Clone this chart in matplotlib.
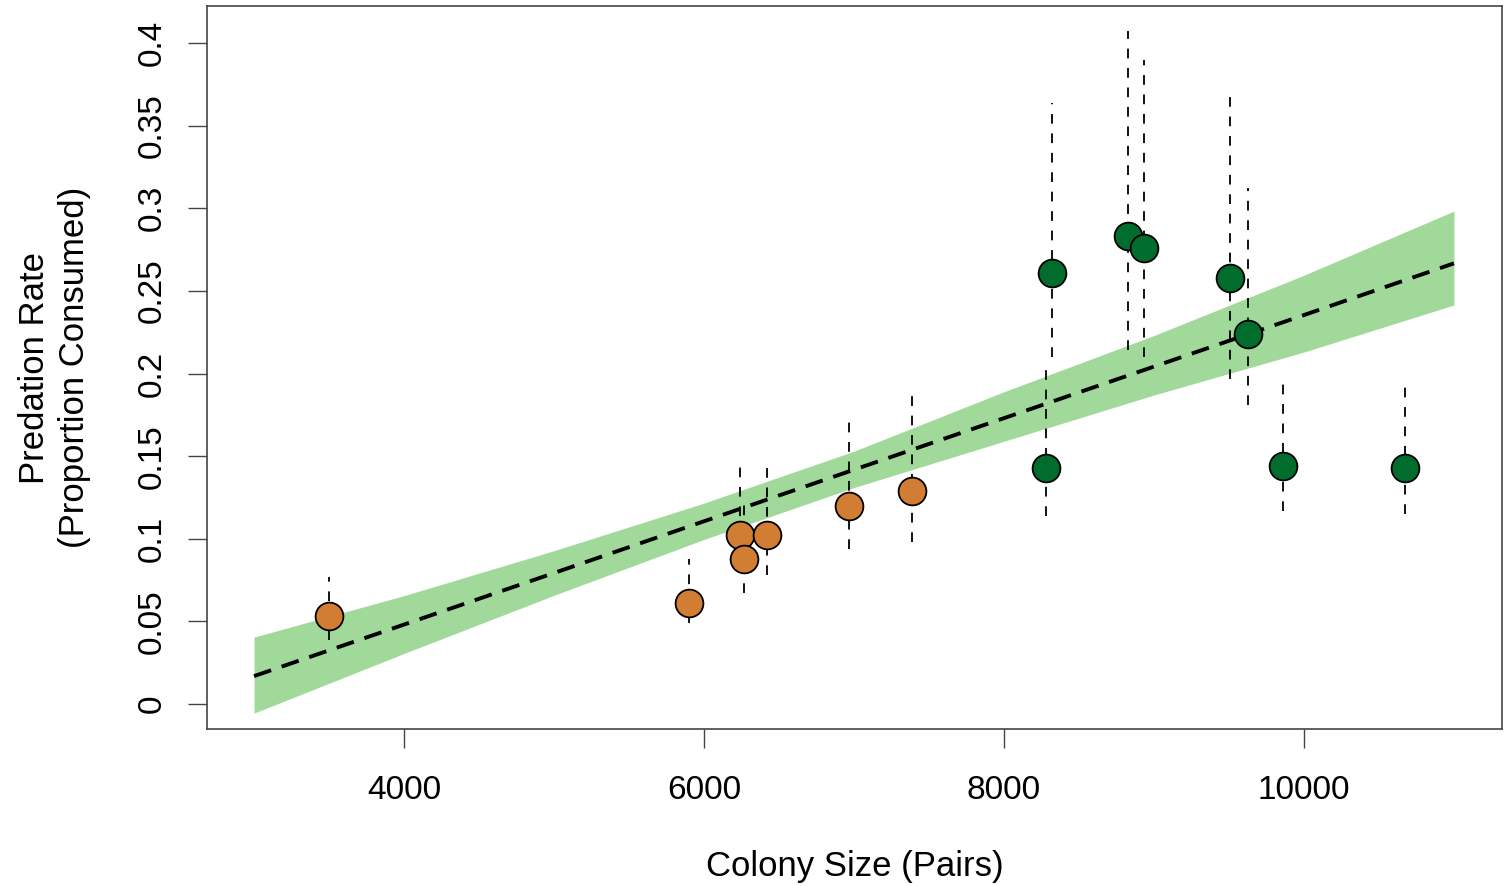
import numpy as np
import matplotlib.pyplot as plt

plt.rcParams['font.family'] = ['Liberation Sans', 'DejaVu Sans']
plt.rcParams['lines.scale_dashes'] = False

# colony size (pairs) and predation rate, with interval ends
orange_x = [3500, 5900, 6240, 6267, 6420, 6967, 7387]
orange_y = [0.053, 0.061, 0.102, 0.088, 0.102, 0.120, 0.129]
orange_lo = [0.039, 0.049, 0.090, 0.067, 0.078, 0.094, 0.098]
orange_hi = [0.077, 0.088, 0.145, 0.122, 0.146, 0.174, 0.188]

green_x = [8280, 8320, 8827, 8933, 9507, 9627, 9860, 10673]
green_y = [0.143, 0.261, 0.283, 0.276, 0.258, 0.224, 0.144, 0.143]
green_lo = [0.114, 0.210, 0.214, 0.210, 0.197, 0.181, 0.117, 0.115]
green_hi = [0.204, 0.364, 0.407, 0.390, 0.373, 0.312, 0.198, 0.197]

# fitted line and its band
fit_x = [3000, 4000, 5000, 6000, 7000, 8000, 9000, 10000, 11000]
fit_y = [0.0169, 0.0481, 0.0793, 0.1106, 0.1418, 0.1730, 0.2042, 0.2354, 0.2667]
band_lo = [-0.0055, 0.0306, 0.0658, 0.0996, 0.1310, 0.1590, 0.1870, 0.2130, 0.2415]
band_hi = [0.0405, 0.0656, 0.0928, 0.1216, 0.1530, 0.1890, 0.2230, 0.2595, 0.2983]

fig = plt.figure(figsize=(15.06, 8.86), dpi=100)
ax = fig.add_axes([0.1375, 0.1772, 0.8598, 0.8160])

ax.fill_between(fit_x, band_lo, band_hi, color='#a1d99b', lw=0, zorder=1)
ax.plot(fit_x, fit_y, color='black', lw=2.8, linestyle=(0, (13, 8)), zorder=2)

for xs, lo, hi in [(orange_x, orange_lo, orange_hi), (green_x, green_lo, green_hi)]:
    ax.vlines(xs, lo, hi, colors='black', lw=1.3, linestyles=(0, (7, 7)), zorder=3)

ax.plot(orange_x, orange_y, 'o', ms=20, mfc='#d27d34', mec='black', mew=1.3, zorder=4)
ax.plot(green_x, green_y, 'o', ms=20, mfc='#006d2c', mec='black', mew=1.3, zorder=4)

ax.set_xlim(2687, 11320)
ax.set_ylim(-0.0151, 0.4224)
ax.set_xticks([4000, 6000, 8000, 10000])
ax.set_yticks([0, 0.05, 0.1, 0.15, 0.2, 0.25, 0.3, 0.35, 0.4])
ax.set_yticklabels(['0', '0.05', '0.1', '0.15', '0.2', '0.25', '0.3', '0.35', '0.4'],
                   rotation=90, va='center')
ax.tick_params(labelsize=24, length=14, width=1, color='#444444')
ax.tick_params(axis='x', pad=19)
ax.tick_params(axis='y', pad=14)

for s in ax.spines.values():
    s.set_color('#444444')
    s.set_linewidth(1.2)

ax.set_xlabel('Colony Size (Pairs)', fontsize=25, labelpad=32)
ax.set_ylabel('Predation Rate\n(Proportion Consumed)', fontsize=25, labelpad=33, linespacing=1.28)

fig.savefig('out.png', dpi=100)
